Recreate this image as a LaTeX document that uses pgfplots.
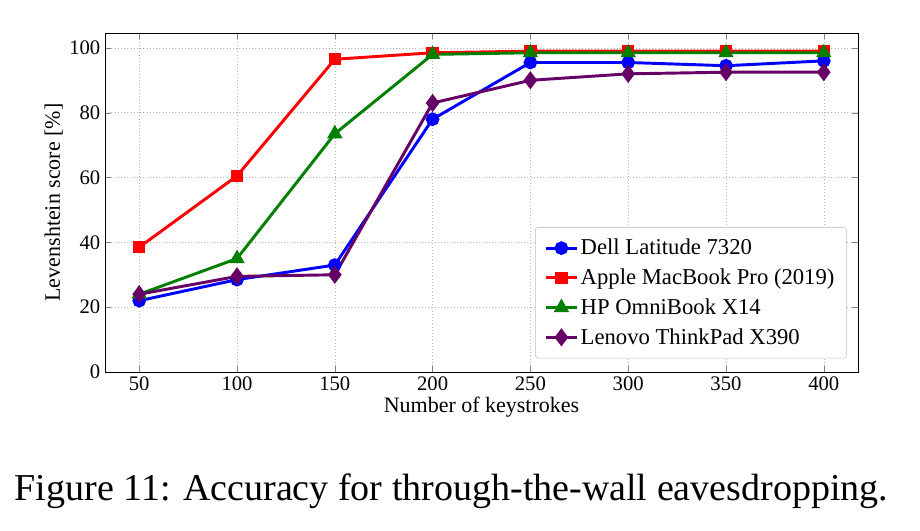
\documentclass[border=0pt]{standalone}
\usepackage{pgfplots}
\pgfplotsset{compat=1.18}
\usepackage{fontspec}
\setmainfont{Liberation Serif}
\begin{document}
\begin{tikzpicture}[x=0.75pt,y=0.75pt]
\useasboundingbox (0,0) rectangle (920,531);
\begin{axis}[at={(105pt*0.75,159pt*0.75)},anchor=south west,
  scale only axis, width=564.75pt, height=254.25pt,
  xmin=32.5, xmax=417.5, ymin=0, ymax=104.6,
  xtick={50,100,...,400}, ytick={0,20,...,100},
  grid=major, grid style={dotted,gray!60},
  tick label style={font=\fontsize{15.5}{17}\selectfont},
  /pgf/number format/assume math mode=true,
  xlabel={Number of keystrokes}, ylabel={Levenshtein score [\%]},
  label style={font=\fontsize{16.5}{18}\selectfont},
  xlabel style={yshift=2pt}, ylabel style={yshift=-2pt},
  legend style={at={(rel axis cs:0.985,0.04)},anchor=south east,font=\fontsize{17}{19}\selectfont,
    row sep=5pt, inner sep=7pt, draw=gray!50, rounded corners=2pt},
  legend cell align=left,
  legend image code/.code={\draw[#1] (0cm,0cm) -- (0.8cm,0cm); \draw[#1,mark repeat=2,mark phase=2] plot coordinates {(0cm,0cm) (0.4cm,0cm) (0.8cm,0cm)};},
  every axis plot/.append style={line width=2.2pt, mark size=4pt},
]
\addplot[blue, mark=*] coordinates {(50,22)(100,28.5)(150,33)(200,78)(250,95.5)(300,95.5)(350,94.5)(400,96)};
\addlegendentry{Dell Latitude 7320}
\addplot[red, mark=square*, mark size=3.5pt] coordinates {(50,38.5)(100,60.5)(150,96.5)(200,98.5)(250,99)(300,99)(350,99)(400,99)};
\addlegendentry{Apple MacBook Pro (2019)}
\addplot[green!50!black, mark=triangle*, mark size=4.5pt] coordinates {(50,24)(100,35)(150,73.5)(200,98)(250,98.5)(300,98.5)(350,98.5)(400,98.5)};
\addlegendentry{HP OmniBook X14}
\addplot[violet!80!black, mark=diamond*, mark size=5pt] coordinates {(50,24)(100,29.5)(150,30)(200,83)(250,90)(300,92)(350,92.5)(400,92.5)};
\addlegendentry{Lenovo ThinkPad X390}
\end{axis}
\node[anchor=base west,font=\fontsize{28.5}{33}\selectfont] at (10,30) {Figure 11: Accuracy for through-the-wall eavesdropping.};
\end{tikzpicture}
\end{document}
